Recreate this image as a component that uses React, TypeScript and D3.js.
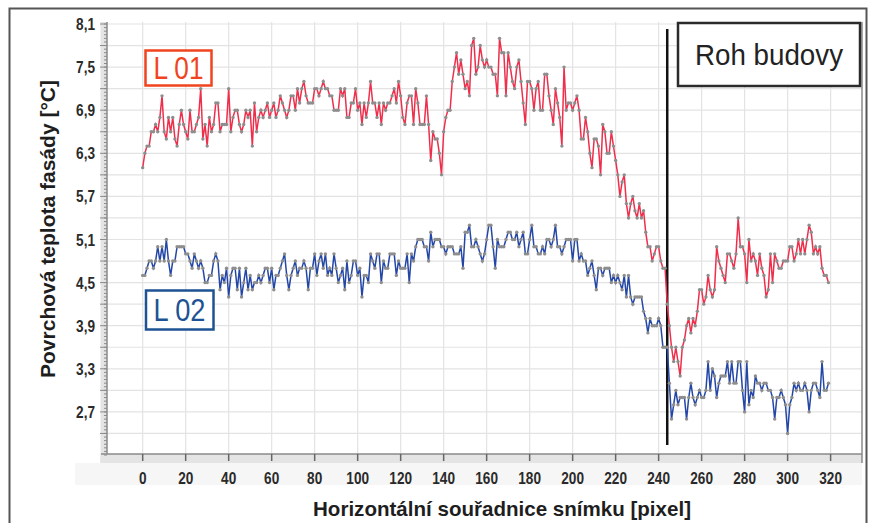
import React from "react";
import * as d3 from "d3";

// Surface temperature profiles (°C), one reading per image column starting at pixel 0
const L01: number[] = [
  // 0–85
  6.1, 6.3, 6.4, 6.4, 6.6, 6.6, 6.7, 6.6, 6.8, 7.1,
  6.6, 6.5, 6.8, 6.6, 6.8, 6.5, 6.4, 6.7, 6.9, 6.7,
  6.6, 6.5, 6.9, 6.6, 6.6, 6.7, 6.8, 7.2, 6.5, 6.7,
  6.4, 6.8, 6.6, 6.7, 7.0, 7.0, 6.6, 6.7, 6.7, 6.7,
  7.2, 6.6, 6.8, 6.9, 6.9, 6.7, 6.6, 6.7, 6.9, 6.8,
  6.9, 6.4, 7.0, 6.6, 6.8, 6.9, 6.8, 6.9, 7.0, 6.8,
  6.9, 7.0, 6.8, 6.9, 7.1, 7.0, 6.9, 6.8, 6.9, 7.1,
  7.1, 6.9, 7.2, 7.0, 7.2, 7.3, 7.1, 7.0, 7.0, 7.0,
  7.2, 7.2, 7.1, 7.2, 7.3, 7.2,
  // 86–165
  7.2, 7.1, 7.1, 6.9, 6.9, 6.9, 7.2, 7.1, 7.2, 6.8,
  6.8, 7.0, 7.0, 7.2, 6.9, 7.0, 6.7, 7.0, 6.8, 7.0,
  7.3, 7.0, 7.0, 6.8, 7.0, 6.7, 7.0, 6.9, 7.0, 7.0,
  7.1, 7.2, 7.0, 7.3, 7.1, 6.8, 6.7, 7.0, 7.1, 7.1,
  6.7, 7.2, 7.0, 6.7, 6.7, 6.7, 7.1, 6.7, 6.2, 6.6,
  6.5, 6.5, 6.3, 6.0, 6.6, 6.8, 6.9, 6.9, 7.3, 7.5,
  7.7, 7.4, 7.6, 7.4, 7.2, 7.3, 7.1, 7.8, 7.9, 7.4,
  7.5, 7.8, 7.6, 7.5, 7.6, 7.5, 7.5, 7.4, 7.4, 7.1,
  // 166–243
  7.9, 7.7, 7.7, 7.1, 7.7, 7.5, 7.3, 7.2, 7.5, 7.6,
  7.3, 7.0, 6.7, 7.3, 7.3, 7.2, 6.9, 7.2, 7.3, 6.9,
  6.9, 7.4, 7.4, 7.1, 6.9, 6.7, 7.2, 7.0, 6.8, 6.4,
  7.5, 6.9, 7.0, 7.0, 6.9, 7.0, 7.1, 6.9, 6.5, 6.5,
  6.8, 6.6, 6.3, 6.1, 6.5, 6.5, 6.4, 6.0, 6.7, 6.6,
  6.3, 6.3, 6.6, 6.4, 6.2, 6.0, 5.7, 5.9, 6.0, 5.6,
  5.4, 5.6, 5.7, 5.5, 5.4, 5.6, 5.4, 5.5, 5.2, 5.0,
  5.0, 4.8, 4.9, 5.0, 5.0, 4.8, 4.7, 4.7,
  // 244–319
  4.2, 3.9, 3.6, 3.4, 3.6, 3.4, 3.2, 3.6, 3.7, 3.9,
  4.0, 3.8, 4.0, 3.9, 4.1, 4.4, 4.4, 4.2, 4.3, 4.6,
  4.4, 4.3, 4.4, 5.0, 4.8, 4.7, 4.6, 4.5, 4.9, 4.9,
  4.8, 4.7, 4.9, 5.4, 5.0, 5.0, 4.9, 4.5, 5.1, 4.8,
  4.9, 4.8, 4.6, 4.9, 4.7, 4.6, 4.3, 4.4, 4.9, 4.5,
  4.9, 4.8, 4.7, 4.7, 4.8, 4.8, 4.8, 5.0, 5.0, 4.8,
  4.9, 5.1, 4.9, 5.1, 4.9, 5.1, 5.3, 5.2, 4.9, 5.0,
  4.9, 5.0, 4.7, 4.6, 4.6, 4.5,
];

const L02: number[] = [
  // 0–86
  4.6, 4.6, 4.7, 4.8, 4.8, 4.7, 4.8, 5.0, 4.8, 5.0,
  4.8, 5.1, 4.8, 4.6, 4.8, 4.8, 5.0, 5.0, 5.0, 5.0,
  4.9, 4.9, 4.8, 4.7, 4.9, 4.8, 4.7, 4.8, 4.7, 4.5,
  4.5, 4.6, 4.6, 4.8, 4.9, 4.8, 4.4, 4.6, 4.5, 4.7,
  4.3, 4.6, 4.7, 4.7, 4.4, 4.7, 4.3, 4.5, 4.7, 4.4,
  4.6, 4.4, 4.5, 4.5, 4.6, 4.5, 4.6, 4.7, 4.7, 4.5,
  4.7, 4.4, 4.6, 4.6, 4.7, 4.8, 4.9, 4.6, 4.4, 4.6,
  4.7, 4.8, 4.6, 4.7, 4.7, 4.8, 4.7, 4.4, 4.7, 4.7,
  4.9, 4.6, 4.8, 4.9, 4.7, 4.9, 4.6,
  // 87–172
  4.7, 4.6, 4.9, 4.7, 4.5, 4.6, 4.7, 4.4, 4.8, 4.5,
  4.6, 4.8, 4.8, 4.6, 4.7, 4.3, 4.6, 4.6, 4.5, 4.9,
  4.8, 4.7, 4.9, 4.9, 4.5, 4.8, 4.7, 4.7, 4.9, 4.9,
  4.9, 4.6, 4.8, 4.7, 4.7, 4.7, 4.9, 4.5, 4.9, 4.8,
  5.0, 5.1, 5.1, 5.1, 5.0, 5.0, 4.8, 5.2, 5.0, 5.1,
  5.1, 5.1, 5.0, 5.0, 4.9, 5.0, 5.0, 5.0, 4.9, 4.9,
  4.9, 5.0, 4.7, 5.2, 5.2, 5.3, 5.0, 5.0, 5.1, 5.0,
  4.9, 4.8, 4.9, 5.1, 5.3, 5.3, 5.0, 4.7, 5.1, 5.0,
  5.0, 5.0, 5.1, 5.2, 5.2, 5.1,
  // 173–243
  5.1, 5.2, 5.0, 5.1, 5.2, 4.9, 4.9, 5.1, 5.3, 5.0,
  5.0, 4.9, 4.9, 5.0, 4.9, 5.1, 5.1, 5.0, 5.1, 5.3,
  5.0, 5.0, 4.9, 5.0, 5.1, 5.1, 5.1, 4.8, 5.1, 5.1,
  4.8, 4.9, 4.8, 4.8, 4.6, 4.7, 4.8, 4.6, 4.4, 4.7,
  4.7, 4.6, 4.7, 4.7, 4.7, 4.5, 4.6, 4.5, 4.6, 4.5,
  4.4, 4.6, 4.3, 4.6, 4.3, 4.2, 4.3, 4.3, 4.3, 4.3,
  4.1, 4.0, 3.8, 4.0, 3.9, 3.9, 3.9, 4.0, 3.9, 3.6,
  3.6,
  // 244–319
  3.6, 3.1, 2.6, 2.8, 3.0, 2.8, 2.9, 2.9, 2.9, 2.6,
  2.9, 3.1, 2.9, 2.8, 2.9, 3.0, 2.9, 2.9, 3.0, 3.4,
  3.0, 3.3, 3.2, 2.9, 3.1, 3.2, 3.2, 3.2, 3.4, 3.1,
  3.4, 3.1, 3.1, 3.4, 3.4, 3.0, 2.7, 3.4, 2.8, 3.0,
  2.9, 3.2, 3.1, 3.1, 3.0, 3.1, 3.1, 3.0, 3.0, 2.9,
  2.6, 2.9, 2.9, 3.0, 2.9, 2.8, 2.4, 2.8, 2.9, 3.1,
  3.0, 3.1, 3.0, 3.0, 3.1, 3.0, 2.7, 3.0, 3.1, 3.1,
  3.0, 2.9, 3.4, 3.0, 3.0, 3.1,
];

const xTickValues = d3.range(0, 321, 20);
const yLabelValues = [8.1, 7.5, 6.9, 6.3, 5.7, 5.1, 4.5, 3.9, 3.3, 2.7];
const yGridValues = d3.range(0, 20).map((i) => +(2.4 + i * 0.3).toFixed(1));
const yMinorValues = d3.range(0, 121).map((i) => +(2.1 + i * 0.05).toFixed(2));
const cornerX = 244;

const W = 876;
const H = 523;
const plotLeft = 107;
const plotRight = 862;
const plotTop = 22;
const plotBottom = 454;

const x = d3.scaleLinear().domain([-16.6, 334.6]).range([plotLeft, plotRight]);
const y = d3.scaleLinear().domain([2.1, 8.1]).range([455, 24]);

const line = d3
  .line<number>()
  .x((_, i) => x(i))
  .y((d) => y(d));

const fmt = (v: number) => v.toFixed(1).replace(".", ",");

const FONT = "'Liberation Sans', Arial, sans-serif";
const NARROW = 0.85;

export default function App() {
  return (
    <svg
      width={W}
      height={H}
      style={{ position: "absolute", left: 0, top: 0, background: "#fff" }}
      fontFamily={FONT}
    >
      {/* outer frame */}
      <rect x={9.5} y={8.5} width={857} height={560} fill="#fff" stroke="#555" strokeWidth={2} />

      {/* axis background strips */}
      <rect x={75} y={463} width={plotRight - 75} height={22} fill="#f6f6f6" />
      <rect x={100.5} y={plotTop} width={plotLeft - 100.5} height={plotBottom - plotTop + 9} fill="#e4e4e4" />
      <rect x={100.5} y={plotBottom} width={plotRight - 100.5} height={9} fill="#e4e4e4" />

      {/* grid */}
      <g stroke="#e3e3e3" strokeWidth={1.2}>
        {xTickValues.map((t) => (
          <line key={"gx" + t} x1={x(t)} x2={x(t)} y1={plotTop} y2={plotBottom} />
        ))}
        {yGridValues.map((t) => (
          <line key={"gy" + t} x1={plotLeft} x2={plotRight} y1={y(t)} y2={y(t)} />
        ))}
      </g>

      {/* plot border right */}
      <line x1={plotRight} x2={plotRight} y1={plotTop} y2={plotBottom + 9} stroke="#8a8a8a" strokeWidth={1.5} />

      {/* y axis */}
      <line x1={plotLeft} x2={plotLeft} y1={plotTop} y2={plotBottom} stroke="#8a8a8a" strokeWidth={1.5} />
      <g stroke="#8a8a8a" strokeWidth={1}>
        {yMinorValues.map((t) => (
          <line key={"ym" + t} x1={plotLeft - 3} x2={plotLeft} y1={y(t)} y2={y(t)} />
        ))}
        {yGridValues.map((t) => (
          <line key={"yM" + t} x1={plotLeft - 7} x2={plotLeft} y1={y(t)} y2={y(t)} />
        ))}
      </g>
      <g fontSize={16} fontWeight="bold" fill="#2a2a2a" textAnchor="end">
        {yLabelValues.map((t) => (
          <text key={"yl" + t} transform={`translate(95,${y(t) + 6}) scale(${NARROW},1)`}>
            {fmt(t)}
          </text>
        ))}
      </g>

      {/* x axis */}
      <line x1={plotLeft - 6} x2={plotRight} y1={plotBottom} y2={plotBottom} stroke="#8a8a8a" strokeWidth={1.5} />
      <g stroke="#666" strokeWidth={1.5}>
        {xTickValues.map((t) => (
          <line key={"xt" + t} x1={x(t)} x2={x(t)} y1={plotBottom} y2={plotBottom + 7} />
        ))}
      </g>
      <g fontSize={16} fontWeight="bold" fill="#2a2a2a" textAnchor="middle">
        {xTickValues.map((t) => (
          <text key={"xl" + t} transform={`translate(${x(t)},484) scale(${NARROW},1)`}>
            {t}
          </text>
        ))}
      </g>

      {/* axis titles */}
      <text
        x={502}
        y={516}
        fontSize={21}
        fontWeight="bold"
        fill="#1e1e1e"
        textAnchor="middle"
        textLength={378}
        lengthAdjust="spacingAndGlyphs"
      >
        Horizontální souřadnice snímku [pixel]
      </text>
      <text
        transform="translate(55,229) rotate(-90)"
        fontSize={21}
        fontWeight="bold"
        fill="#1e1e1e"
        textAnchor="middle"
        textLength={298}
        lengthAdjust="spacingAndGlyphs"
      >
        Povrchová teplota fasády [°C]
      </text>

      {/* building corner marker */}
      <line x1={x(cornerX)} x2={x(cornerX)} y1={29} y2={445} stroke="#111" strokeWidth={2.5} />

      {/* series */}
      <path d={line(L01) ?? ""} fill="none" stroke="#ee2f4c" strokeWidth={1.5} />
      <path d={line(L02) ?? ""} fill="none" stroke="#2447a6" strokeWidth={1.5} />
      <g fill="#8e8e8e">
        {L01.map((v, i) => (
          <circle key={"a" + i} cx={x(i)} cy={y(v)} r={1.7} />
        ))}
        {L02.map((v, i) => (
          <circle key={"b" + i} cx={x(i)} cy={y(v)} r={1.7} />
        ))}
      </g>

      {/* series labels */}
      <rect x={145.5} y={50.5} width={66} height={35} fill="#fff" stroke="#f0441f" strokeWidth={2.5} />
      <text x={178.5} y={79} fontSize={31} fill="#f0441f" textAnchor="middle" textLength={50} lengthAdjust="spacingAndGlyphs">
        L 01
      </text>
      <rect x={146} y={290.5} width={67.5} height={39} fill="#fff" stroke="#1d5394" strokeWidth={2.5} />
      <text x={179.5} y={321} fontSize={31} fill="#1d5394" textAnchor="middle" textLength={52} lengthAdjust="spacingAndGlyphs">
        L 02
      </text>

      {/* corner annotation */}
      <rect x={678} y={23} width={182} height={63} fill="#fff" stroke="#2b2b2b" strokeWidth={2.5} />
      <text x={769} y={65} fontSize={29} fill="#222" textAnchor="middle" textLength={148} lengthAdjust="spacingAndGlyphs">
        Roh budovy
      </text>
    </svg>
  );
}
